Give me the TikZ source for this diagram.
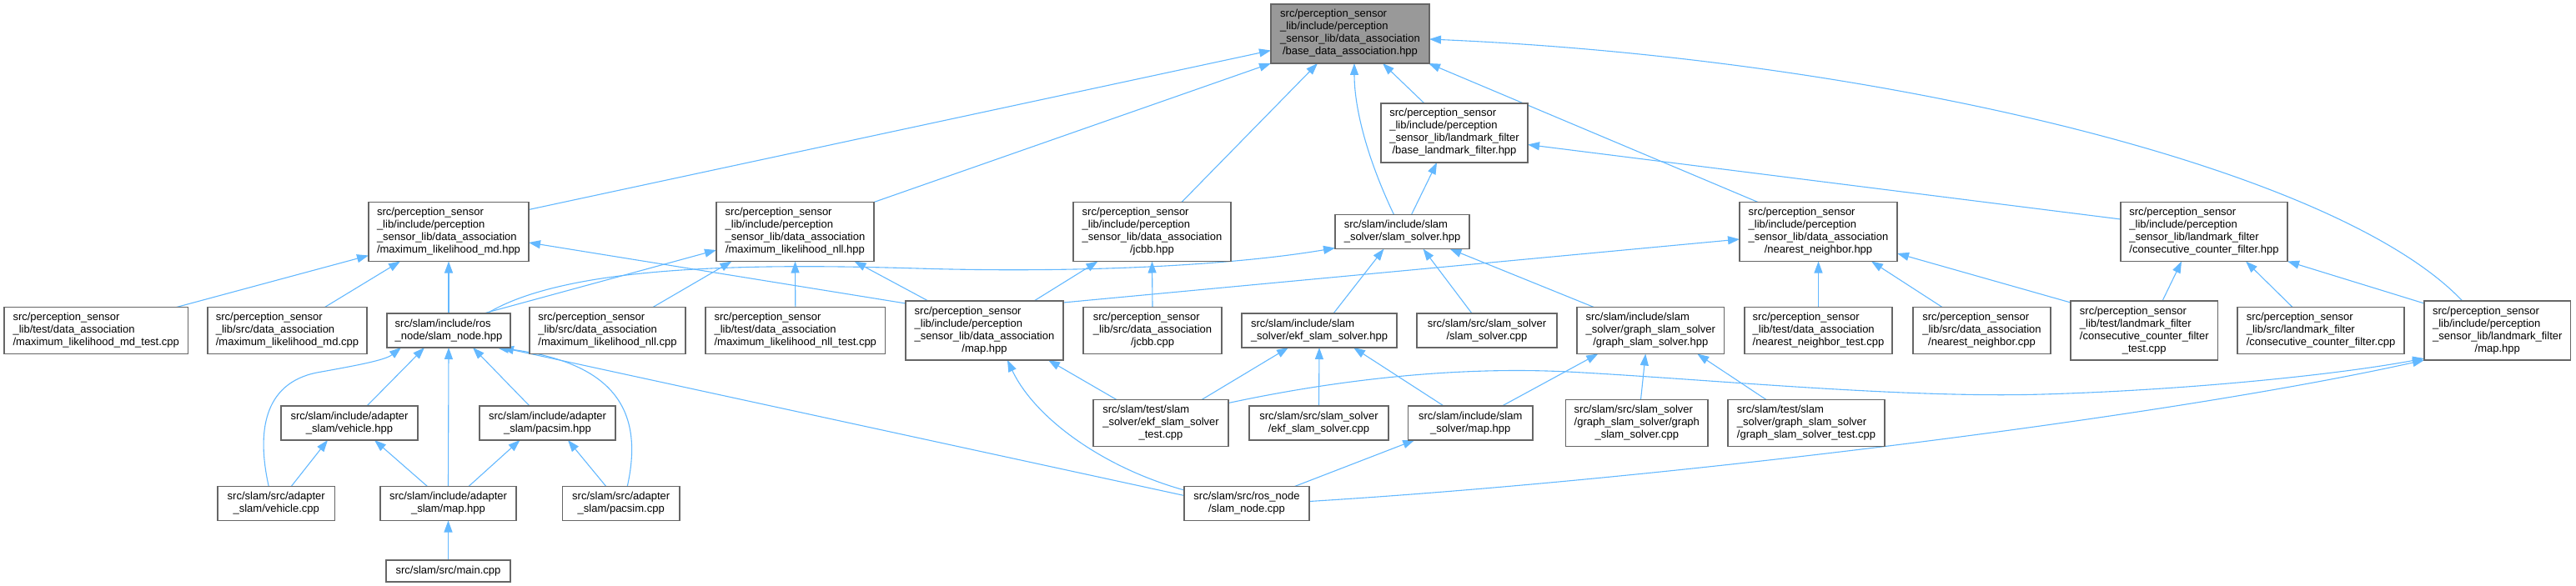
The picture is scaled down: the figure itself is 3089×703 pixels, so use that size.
\documentclass[tikz,border=0pt]{standalone}
\usepackage{fontspec}
\setmainfont{Liberation Sans}
\usetikzlibrary{arrows.meta,calc}
\definecolor{edgeblue}{HTML}{63B8FF}
\definecolor{boxgray}{HTML}{666666}
\definecolor{rootfill}{HTML}{999999}
\newcommand{\lbl}[2]{\begin{tabular}{@{}l@{}}#1\\\multicolumn{1}{@{}c@{}}{#2}\end{tabular}}
\pgfdeclarelayer{bg}
\pgfsetlayers{bg,main}
\begin{document}
\begin{tikzpicture}[x=1pt,y=-1pt,
  box/.style={draw=boxgray, line width=1.2pt, fill=white, inner sep=0pt, outer sep=0pt,
    font=\fontsize{13}{15}\selectfont, text=black},
  root/.style={box, fill=rootfill},
  hA/.style={minimum height=26pt},
  hB/.style={minimum height=41pt},
  hC/.style={minimum height=56pt},
  hD/.style={minimum height=71pt},
  dep/.style={draw=edgeblue, line width=1.1pt, -{Triangle[length=14pt,width=10pt]}}]
\useasboundingbox (0,0) rectangle (3089,703);
% row 1-2
\node[root,hD,minimum width=190pt] (A) at (1619,40.5) {\lbl{src/perception\_sensor\\\_lib/include/perception\\\_sensor\_lib/data\_association}{/base\_data\_association.hpp}};
\node[box,hD,minimum width=176pt] (B) at (1744,159.5) {\lbl{src/perception\_sensor\\\_lib/include/perception\\\_sensor\_lib/landmark\_filter}{/base\_landmark\_filter.hpp}};
% row 3
\node[box,hD,minimum width=192pt] (C) at (538,278) {\lbl{src/perception\_sensor\\\_lib/include/perception\\\_sensor\_lib/data\_association}{/maximum\_likelihood\_md.hpp}};
\node[box,hD,minimum width=189pt] (D) at (953.5,278) {\lbl{src/perception\_sensor\\\_lib/include/perception\\\_sensor\_lib/data\_association}{/maximum\_likelihood\_nll.hpp}};
\node[box,hD,minimum width=189pt] (E) at (1381.5,278) {\lbl{src/perception\_sensor\\\_lib/include/perception\\\_sensor\_lib/data\_association}{/jcbb.hpp}};
\node[box,hB,minimum width=161pt] (F) at (1681.5,278) {\lbl{src/slam/include/slam}{\_solver/slam\_solver.hpp}};
\node[box,hD,minimum width=189pt] (G) at (2180.5,278) {\lbl{src/perception\_sensor\\\_lib/include/perception\\\_sensor\_lib/data\_association}{/nearest\_neighbor.hpp}};
\node[box,hD,minimum width=200pt] (H) at (2643,278) {\lbl{src/perception\_sensor\\\_lib/include/perception\\\_sensor\_lib/landmark\_filter}{/consecutive\_counter\_filter.hpp}};
% row 4
\node[box,hC,minimum width=220.5pt] (I) at (115.25,396.5) {\lbl{src/perception\_sensor\\\_lib/test/data\_association}{/maximum\_likelihood\_md\_test.cpp}};
\node[box,hC,minimum width=191pt] (J) at (344.5,396.5) {\lbl{src/perception\_sensor\\\_lib/src/data\_association}{/maximum\_likelihood\_md.cpp}};
\node[box,hB,minimum width=148pt] (K) at (538,396.5) {\lbl{src/slam/include/ros}{\_node/slam\_node.hpp}};
\node[box,hC,minimum width=187pt] (L) at (728.5,396.5) {\lbl{src/perception\_sensor\\\_lib/src/data\_association}{/maximum\_likelihood\_nll.cpp}};
\node[box,hC,minimum width=215.6pt] (M) at (953.8,396.5) {\lbl{src/perception\_sensor\\\_lib/test/data\_association}{/maximum\_likelihood\_nll\_test.cpp}};
\node[box,hD,minimum width=189pt] (N) at (1180.5,396.5) {\lbl{src/perception\_sensor\\\_lib/include/perception\\\_sensor\_lib/data\_association}{/map.hpp}};
\node[box,hC,minimum width=166pt] (O) at (1382,396.5) {\lbl{src/perception\_sensor\\\_lib/src/data\_association}{/jcbb.cpp}};
\node[box,hB,minimum width=186pt] (P) at (1582,396.5) {\lbl{src/slam/include/slam}{\_solver/ekf\_slam\_solver.hpp}};
\node[box,hB,minimum width=168pt] (Q) at (1783,396.5) {\lbl{src/slam/src/slam\_solver}{/slam\_solver.cpp}};
\node[box,hC,minimum width=176.5pt] (R) at (1979.25,396.5) {\lbl{src/slam/include/slam\\\_solver/graph\_slam\_solver}{/graph\_slam\_solver.hpp}};
\node[box,hC,minimum width=177pt] (S) at (2180.5,396.5) {\lbl{src/perception\_sensor\\\_lib/test/data\_association}{/nearest\_neighbor\_test.cpp}};
\node[box,hC,minimum width=165pt] (T) at (2376.5,396.5) {\lbl{src/perception\_sensor\\\_lib/src/data\_association}{/nearest\_neighbor.cpp}};
\node[box,hD,minimum width=176.5pt] (U) at (2571.25,396.5) {\lbl{src/perception\_sensor\\\_lib/test/landmark\_filter\\/consecutive\_counter\_filter}{\_test.cpp}};
\node[box,hC,minimum width=200pt] (V) at (2783,396.5) {\lbl{src/perception\_sensor\\\_lib/src/landmark\_filter}{/consecutive\_counter\_filter.cpp}};
\node[box,hD,minimum width=175.5pt] (W) at (2994.75,396.5) {\lbl{src/perception\_sensor\\\_lib/include/perception\\\_sensor\_lib/landmark\_filter}{/map.hpp}};
% row 5
\node[box,hB,minimum width=164pt] (X) at (419,507.5) {\lbl{src/slam/include/adapter}{\_slam/vehicle.hpp}};
\node[box,hB,minimum width=163pt] (Y) at (656.5,507.5) {\lbl{src/slam/include/adapter}{\_slam/pacsim.hpp}};
\node[box,hC,minimum width=162pt] (Z) at (1392,507.5) {\lbl{src/slam/test/slam\\\_solver/ekf\_slam\_solver}{\_test.cpp}};
\node[box,hB,minimum width=167pt] (AA) at (1581.5,507.5) {\lbl{src/slam/src/slam\_solver}{/ekf\_slam\_solver.cpp}};
\node[box,hB,minimum width=149.5pt] (AB) at (1763.25,507.5) {\lbl{src/slam/include/slam}{\_solver/map.hpp}};
\node[box,hC,minimum width=170.4pt] (AC) at (1962.8,507.5) {\lbl{src/slam/src/slam\_solver\\/graph\_slam\_solver/graph}{\_slam\_solver.cpp}};
\node[box,hC,minimum width=188pt] (AD) at (2166,507.5) {\lbl{src/slam/test/slam\\\_solver/graph\_slam\_solver}{/graph\_slam\_solver\_test.cpp}};
% row 6-7
\node[box,hB,minimum width=140.5pt] (AE) at (331.25,604) {\lbl{src/slam/src/adapter}{\_slam/vehicle.cpp}};
\node[box,hB,minimum width=163pt] (AF) at (537.5,604) {\lbl{src/slam/include/adapter}{\_slam/map.hpp}};
\node[box,hB,minimum width=140.5pt] (AG) at (744.75,604) {\lbl{src/slam/src/adapter}{\_slam/pacsim.cpp}};
\node[box,hB,minimum width=150pt] (AH) at (1495,604) {\lbl{src/slam/src/ros\_node}{/slam\_node.cpp}};
\node[box,hA,minimum width=149pt] (AI) at (537.5,685) {src/slam/src/main.cpp};

\begin{pgfonlayer}{bg}
% into A
\draw[dep] ($(C.north east)+(0,9)$) -- ($(A.west)+(0,20)$);
\draw[dep] (D.north east) -- (A.south west);
\draw[dep] ($(E.north)+(35.5,0)$) -- ($(A.south)+(-39,0)$);
\draw[dep] ($(F.north)+(-10,0)$) .. controls ($(F.north)+(-42,-67)$) and ($(A.south)+(5,54)$) .. ($(A.south)+(5,0)$);
\draw[dep] ($(B.north)+(-36,0)$) -- ($(A.south)+(39,0)$);
\draw[dep] ($(G.north)+(-72.5,0)$) -- ($(A.south east)+(-1,0)$);
\draw[dep] ($(W.north)+(-42,0)$) .. controls (2800,200) and (2250,70) .. ($(A.east)+(0,6.5)$);
% into B
\draw[dep] ($(F.north)+(11,0)$) -- ($(B.south)+(-21,0)$);
\draw[dep] ($(H.west)+(0,-15)$) -- ($(B.east)+(0,14)$);
% into C
\draw[dep] ($(I.north)+(96.5,0)$) -- ($(C.south west)+(0,-7)$);
\draw[dep] ($(J.north)+(45,0)$) -- ($(C.south)+(-58,0)$);
\draw[dep] (K.north) -- (C.south);
\draw[dep] ($(N.north west)+(0,3)$) -- ($(C.east)+(0,13)$);
% into D
\draw[dep] ($(K.north)+(42,0)$) -- ($(D.west)+(0,22)$);
\draw[dep] ($(L.north)+(54.5,0)$) -- ($(D.south)+(-76,0)$);
\draw[dep] (M.north) -- (D.south);
\draw[dep] ($(N.north)+(-67.5,0)$) -- ($(D.south)+(71,0)$);
% into E
\draw[dep] ($(N.north)+(59.5,0)$) -- ($(E.south)+(-65,0)$);
\draw[dep] (O.north) -- (E.south);
% into F
\draw[dep] ($(K.north)+(46,0)$) .. controls (680,318) and (900,316) .. (1100,322) .. controls (1300,328) and (1480,318) .. ($(F.south west)+(0,-1)$);
\draw[dep] ($(P.north)+(17,0)$) -- ($(F.south)+(-22,0)$);
\draw[dep] ($(Q.north)+(-18,0)$) -- ($(F.south)+(25,0)$);
\draw[dep] ($(R.north)+(-68,0)$) -- ($(F.south)+(57,0)$);
% into G
\draw[dep] ($(N.north east)+(0,2)$) -- ($(G.west)+(0,9)$);
\draw[dep] (S.north) -- (G.south);
\draw[dep] ($(T.north)+(-47.5,0)$) -- ($(G.south)+(63.5,0)$);
\draw[dep] ($(U.north west)+(0,2)$) -- ($(G.east)+(0,26)$);
% into H
\draw[dep] ($(U.north)+(21.75,0)$) -- ($(H.south)+(-27,0)$);
\draw[dep] ($(V.north)+(-34,0)$) -- ($(H.south)+(50,0)$);
\draw[dep] ($(W.north west)+(0,3)$) -- (H.south east);
% into W
\draw[dep] ($(Z.north east)+(0,4)$) .. controls (1620,452) and (1760,440) .. (1880,446) .. controls (2050,455) and (2280,478) .. (2450,473) .. controls (2620,468) and (2800,450) .. ($(W.south west)+(0,-2)$);
\draw[dep] ($(AH.east)+(0,-2.5)$) .. controls (2000,575) and (2600,500) .. (W.south west);
% into N
\draw[dep] ($(AH.west)+(0,-16)$) .. controls (1320,560) and (1240,500) .. ($(N.south)+(27.5,0)$);
\draw[dep] ($(Z.north)+(-53,0)$) -- ($(N.south)+(76.5,0)$);
% into P
\draw[dep] ($(Z.north)+(49,0)$) -- ($(P.south)+(-37,0)$);
\draw[dep] (AA.north) -- (P.south);
\draw[dep] ($(AB.north)+(-32,0)$) -- ($(P.south)+(41,0)$);
% into R
\draw[dep] ($(AB.north)+(38,0)$) -- ($(R.south)+(-63,0)$);
\draw[dep] ($(AC.north)+(4.7,0)$) -- ($(R.south)+(-6,0)$);
\draw[dep] ($(AD.north)+(-48,0)$) -- ($(R.south)+(56,0)$);
% into AB
\draw[dep] ($(AH.north)+(57.5,0)$) -- ($(AB.south)+(-67,0)$);
% into K
\draw[dep] ($(AH.west)+(0,-9.5)$) -- ($(K.south)+(64,0)$);
\draw[dep] ($(AG.north)+(7.5,0)$) .. controls (772,495) and (740,435) .. ($(K.south)+(58,0)$);
\draw[dep] ($(AE.north)+(-9,0)$) .. controls (308,520) and (315,460) .. (380,447) .. controls (430,438) and (462,432) .. ($(K.south)+(-57,0)$);
\draw[dep] ($(X.north)+(21,0)$) -- ($(K.south)+(-29,0)$);
\draw[dep] (AF.north) -- (K.south);
\draw[dep] ($(Y.north)+(-21.5,0)$) -- ($(K.south)+(29,0)$);
% into X, Y
\draw[dep] ($(AE.north)+(18,0)$) -- ($(X.south)+(-26,0)$);
\draw[dep] ($(AF.north)+(-25,0)$) -- ($(X.south)+(30,0)$);
\draw[dep] ($(AF.north)+(24.5,0)$) -- ($(Y.south)+(-33,0)$);
\draw[dep] ($(AG.north)+(-18,0)$) -- ($(Y.south)+(24.5,0)$);
% into AF
\draw[dep] (AI.north) -- (AF.south);
\end{pgfonlayer}
\end{tikzpicture}
\end{document}
